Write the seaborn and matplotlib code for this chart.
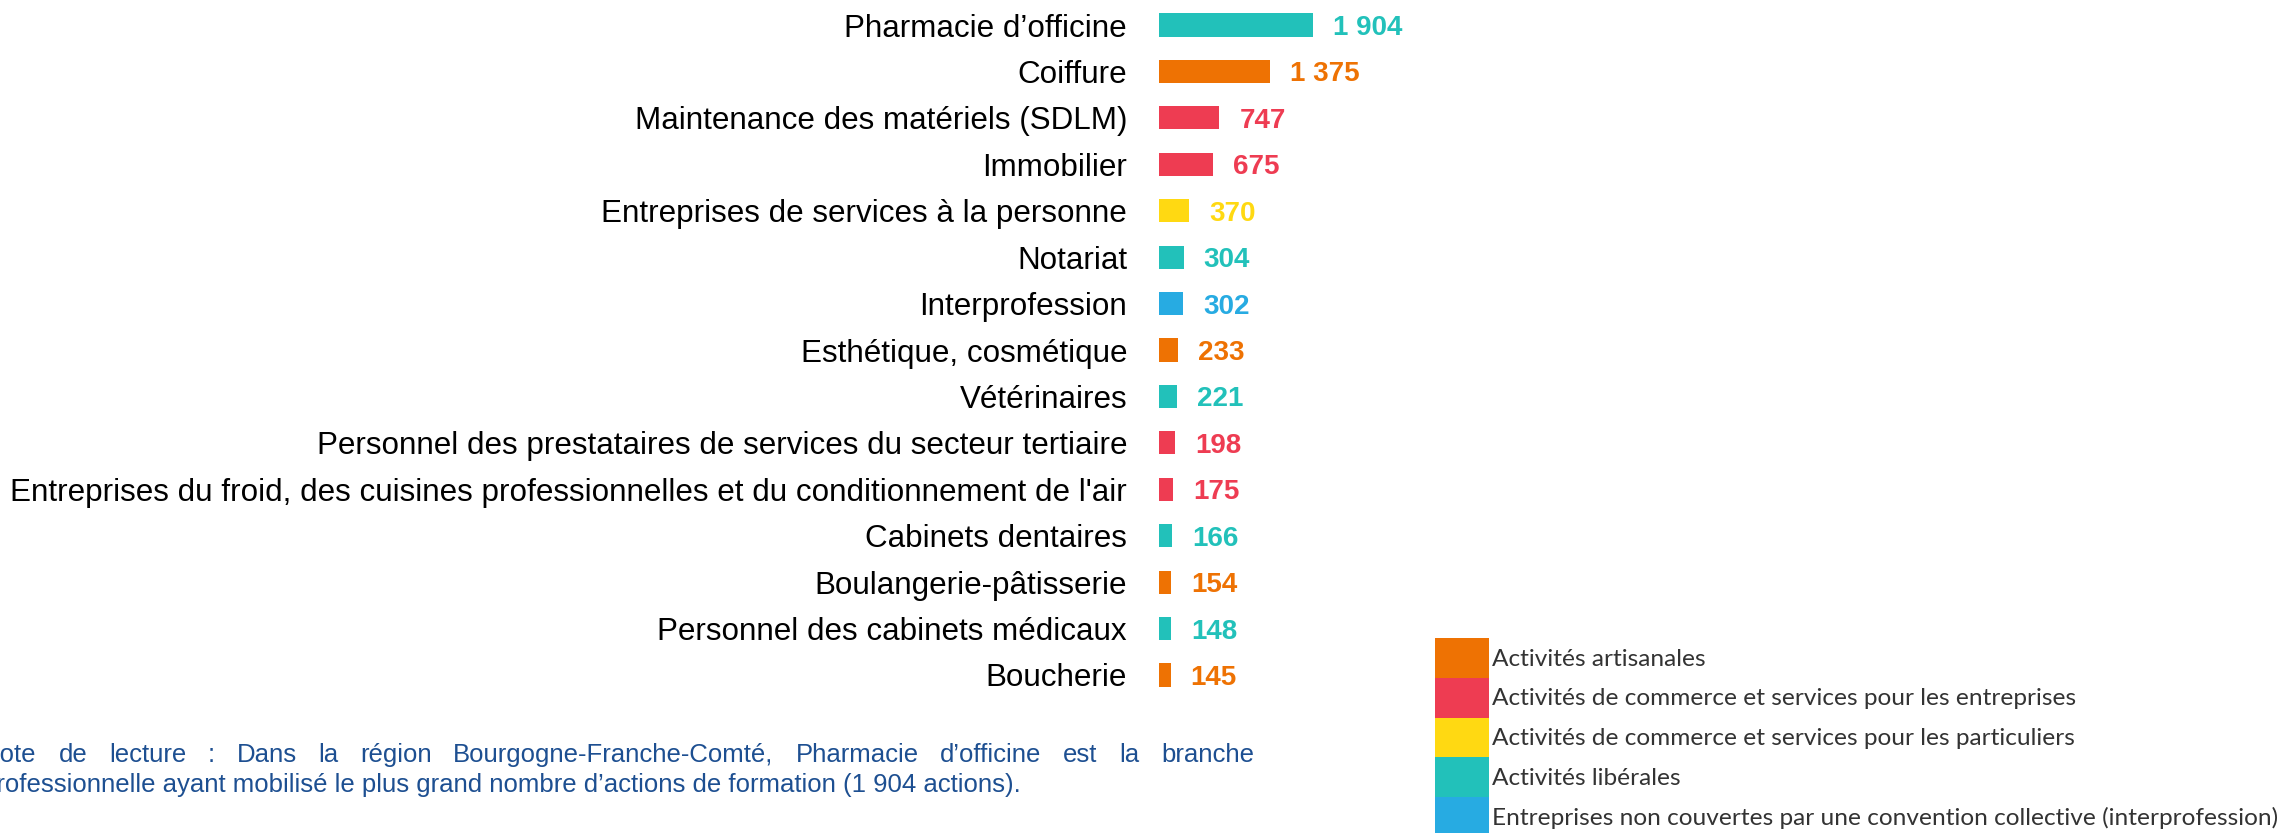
import matplotlib
matplotlib.use("Agg")
import matplotlib.pyplot as plt
from matplotlib.patches import Patch
import pandas as pd
import seaborn as sns

# Branches professionnelles et nombre d'actions de formation
categories = [
    "Pharmacie d’officine",
    "Coiffure",
    "Maintenance des matériels (SDLM)",
    "Immobilier",
    "Entreprises de services à la personne",
    "Notariat",
    "Interprofession",
    "Esthétique, cosmétique",
    "Vétérinaires",
    "Personnel des prestataires de services du secteur tertiaire",
    "Entreprises du froid, des cuisines professionnelles et du conditionnement de l'air",
    "Cabinets dentaires",
    "Boulangerie-pâtisserie",
    "Personnel des cabinets médicaux",
    "Boucherie",
]
values = [1904, 1375, 747, 675, 370, 304, 302, 233, 221, 198, 175, 166, 154, 148, 145]
groups = [
    "Activités libérales",
    "Activités artisanales",
    "Activités de commerce et services pour les entreprises",
    "Activités de commerce et services pour les entreprises",
    "Activités de commerce et services pour les particuliers",
    "Activités libérales",
    "Entreprises non couvertes par une convention collective (interprofession)",
    "Activités artisanales",
    "Activités libérales",
    "Activités de commerce et services pour les entreprises",
    "Activités de commerce et services pour les entreprises",
    "Activités libérales",
    "Activités artisanales",
    "Activités libérales",
    "Activités artisanales",
]
group_names = [
    "Activités artisanales",
    "Activités de commerce et services pour les entreprises",
    "Activités de commerce et services pour les particuliers",
    "Activités libérales",
    "Entreprises non couvertes par une convention collective (interprofession)",
]
group_colors = ["#EE7203", "#EE3C52", "#FFD912", "#22C1BA", "#27ABE2"]

note_line1 = ("Note de lecture : Dans la région Bourgogne-Franche-Comté, "
              "Pharmacie d’officine est la branche")
note_line2 = ("professionnelle ayant mobilisé le plus grand nombre "
              "d’actions de formation (1 904 actions).")

sns.set_theme(style="white")
plt.rcParams["font.family"] = ["Liberation Sans", "DejaVu Sans"]

W, H = 2287, 833
fig = plt.figure(figsize=(W / 100, H / 100), dpi=100)
fig.patch.set_facecolor("white")

ax = fig.add_axes([1159 / W, 1 - 698.2 / H, 242 / W, 696.4 / H])
ax.set_facecolor("none")

df = pd.DataFrame({"branche": categories, "actions": values, "groupe": groups})
palette = dict(zip(group_names, group_colors))
sns.barplot(data=df, x="actions", y="branche", hue="groupe", hue_order=group_names,
            palette=palette, dodge=False, width=0.5, orient="h", saturation=1,
            linewidth=0, legend=False, ax=ax)

ax.set_xlim(0, 3000)
ax.set_ylim(len(categories) - 0.5, -0.5)
ax.set_xlabel("")
ax.set_ylabel("")
ax.set_xticks([])
for s in ax.spines.values():
    s.set_visible(False)
ax.tick_params(axis="y", length=0, pad=23, labelsize=22.6, labelcolor="black")

# value labels in the colour of each bar
for i, (v, g) in enumerate(zip(values, groups)):
    ax.annotate(f"{v:,}".replace(",", " "), xy=(v, i), xytext=(14.4, -2.2),
                textcoords="offset points", ha="left", va="center",
                fontsize=20, fontweight="bold", color=palette[g])

# legend: stacked colour blocks
fs_leg = 17.6
handles = [Patch(facecolor=c, edgecolor="none") for c in group_colors]
fig.legend(handles, group_names, loc="upper left",
           bbox_to_anchor=(1435 / W, 1 - 638 / H), frameon=False,
           prop={"family": ["Lato", "DejaVu Sans"], "size": fs_leg},
           handlelength=38.9 / fs_leg, handleheight=2.13, handletextpad=0.12,
           labelspacing=0, borderpad=0, borderaxespad=0, labelcolor="#333333")

# justified reading note
note_kw = dict(fontsize=18.5, color="#1D4F91", va="baseline", ha="left")
renderer = fig.canvas.get_renderer()
t2 = fig.text(0, 1 - 792 / H, note_line2, **note_kw)
w2 = t2.get_window_extent(renderer).width
x_left = 1021 - w2
t2.set_x(x_left / W)

words = note_line1.split(" ")
texts = [fig.text(0, 1 - 762 / H, w, **note_kw) for w in words]
widths = [t.get_window_extent(renderer).width for t in texts]
x_right = 1254
gap = (x_right - x_left - sum(widths)) / (len(words) - 1)
x = x_left
for t, w in zip(texts, widths):
    t.set_x(x / W)
    x += w + gap

fig.savefig("out.png", dpi=100, facecolor="white")
